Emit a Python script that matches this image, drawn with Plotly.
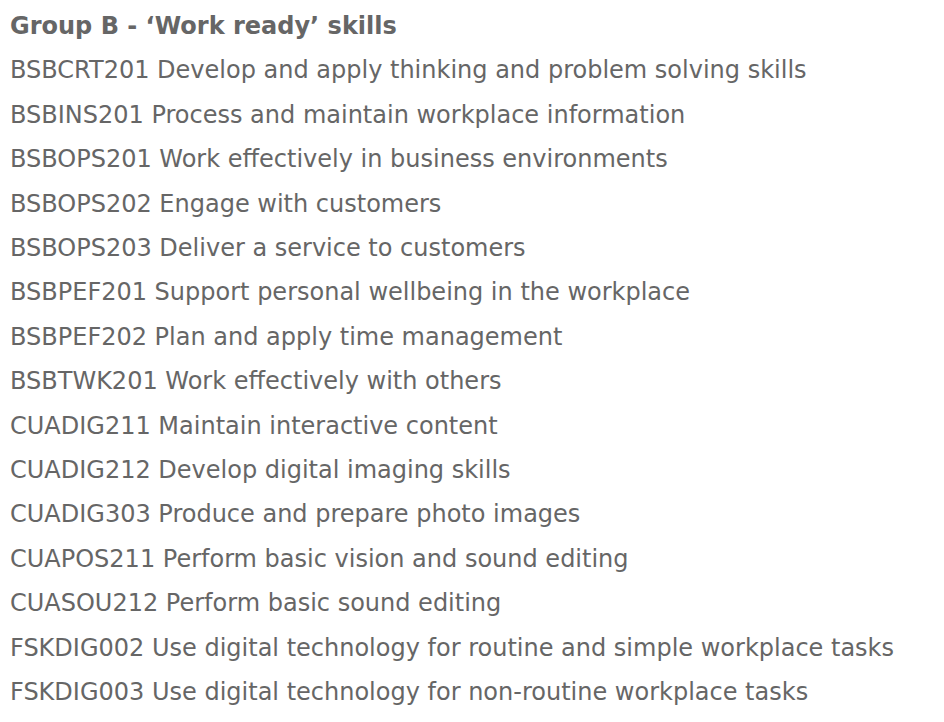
import plotly.graph_objects as go

# Heading and unit list as shown in the reference
heading = "Group B - \u2018Work ready\u2019 skills"

unit_codes = [
    "BSBCRT201", "BSBINS201", "BSBOPS201", "BSBOPS202", "BSBOPS203",
    "BSBPEF201", "BSBPEF202", "BSBTWK201", "CUADIG211", "CUADIG212",
    "CUADIG303", "CUAPOS211", "CUASOU212", "FSKDIG002", "FSKDIG003",
]
unit_titles = [
    "Develop and apply thinking and problem solving skills",
    "Process and maintain workplace information",
    "Work effectively in business environments",
    "Engage with customers",
    "Deliver a service to customers",
    "Support personal wellbeing in the workplace",
    "Plan and apply time management",
    "Work effectively with others",
    "Maintain interactive content",
    "Develop digital imaging skills",
    "Produce and prepare photo images",
    "Perform basic vision and sound editing",
    "Perform basic sound editing",
    "Use digital technology for routine and simple workplace tasks",
    "Use digital technology for non-routine workplace tasks",
]

lines = [f"<b>{heading}</b>"] + [f"{c} {t}" for c, t in zip(unit_codes, unit_titles)]
rows = list(range(len(lines)))

TEXT_COLOR = "#666666"

fig = go.Figure(
    go.Scatter(
        x=[0] * len(lines),
        y=rows,
        mode="text",
        text=lines,
        textposition="middle right",
        textfont=dict(family="DejaVu Sans, Verdana, sans-serif", size=24, color=TEXT_COLOR),
        hoverinfo="skip",
        showlegend=False,
    )
)

fig.update_layout(
    width=944,
    height=722,
    margin=dict(l=0, r=0, t=0, b=0),
    paper_bgcolor="white",
    plot_bgcolor="white",
    xaxis=dict(range=[-2, 942], visible=False, fixedrange=True),
    yaxis=dict(range=[15.811, -0.45], visible=False, fixedrange=True),
)

fig.write_html("out.html")
